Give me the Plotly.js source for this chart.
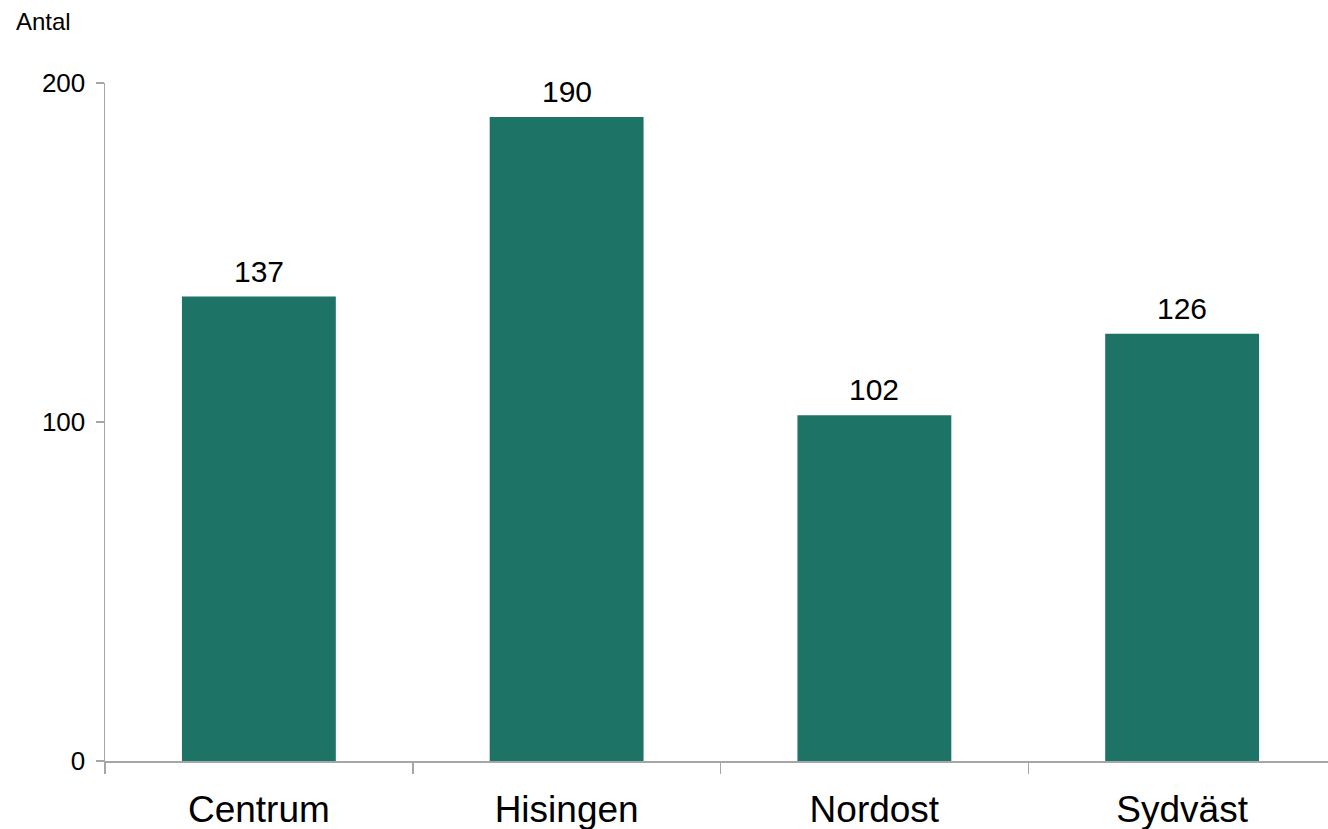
<!DOCTYPE html>
<html>
<head>
<meta charset="utf-8">
<script src="https://cdn.plot.ly/plotly-3.0.1.min.js"></script>
<style>html,body{margin:0;padding:0;background:#fff}#chart{width:1328px;height:829px}</style>
</head>
<body>
<div id="chart"></div>
<script>
const categories = ["Centrum", "Hisingen", "Nordost", "Sydväst"];
const values = [137, 190, 102, 126];
const yTickVals = [0, 100, 200];
const yTickText = ["0", "100", "200"];

const font = "Liberation Sans, Arial, sans-serif";
const trace = {
  type: "bar",
  x: categories,
  y: values,
  width: 0.5,
  marker: {color: "#1d7366"},
  hoverinfo: "skip"
};
const valueLabels = categories.map((c, i) => ({
  x: c, y: values[i], xref: "x", yref: "y",
  text: String(values[i]), showarrow: false,
  xanchor: "center", yanchor: "bottom", yshift: 7,
  font: {size: 30, color: "#000", family: font}
}));
const layout = {
  width: 1328, height: 829,
  margin: {l: 105, r: 0, t: 83, b: 68},
  paper_bgcolor: "#fff", plot_bgcolor: "#fff",
  font: {family: font, color: "#000"},
  showlegend: false,
  bargap: 0.5,
  xaxis: {
    type: "category",
    range: [-0.5, 3.474],
    showline: true, linecolor: "#a6a6a6", linewidth: 1.5,
    ticks: "outside", tickson: "boundaries", ticklen: 11, tickcolor: "#a6a6a6", tickwidth: 1.5,
    tickfont: {size: 37, color: "#000", family: font},
    ticklabelstandoff: 15,
    showgrid: false, zeroline: false, fixedrange: true
  },
  yaxis: {
    range: [0, 200],
    tickmode: "array", tickvals: yTickVals, ticktext: yTickText,
    showline: true, linecolor: "#a6a6a6", linewidth: 1.5,
    ticks: "outside", ticklen: 8, tickcolor: "#a6a6a6", tickwidth: 1.5,
    tickfont: {size: 26, color: "#000", family: font},
    ticklabelstandoff: 5,
    showgrid: false, zeroline: false, fixedrange: true
  },
  annotations: valueLabels.concat([{
    text: "Antal", xref: "paper", yref: "paper", x: -0.074, y: 1.09,
    xanchor: "left", yanchor: "middle", showarrow: false,
    font: {size: 24, color: "#000", family: font}
  }])
};
Plotly.newPlot("chart", [trace], layout, {displayModeBar: false, staticPlot: true});
</script>
</body>
</html>
